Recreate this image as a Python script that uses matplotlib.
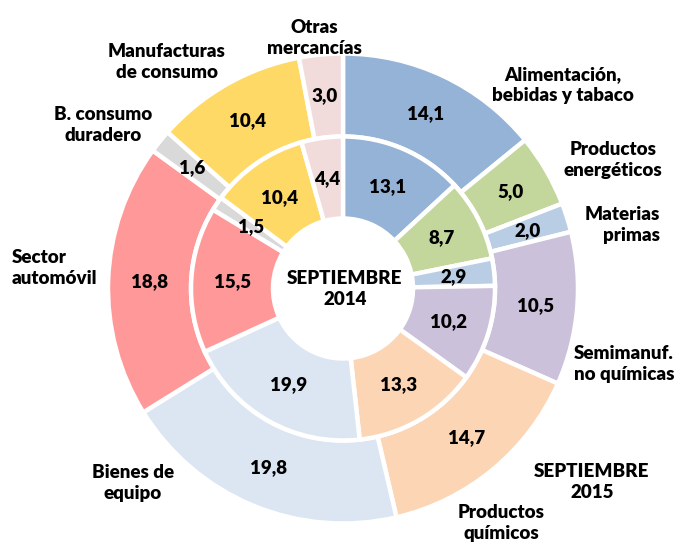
import numpy as np
import matplotlib
matplotlib.use("Agg")
import matplotlib.pyplot as plt

plt.rcParams['font.family'] = ['Lato', 'DejaVu Sans']

# datos: % sobre el total, septiembre 2015 (anillo exterior) y 2014 (interior)
categorias = ["Alimentación,\nbebidas y tabaco", "Productos\nenergéticos",
              "Materias\nprimas", "Semimanuf.\nno químicas", "Productos\nquímicos",
              "Bienes de\nequipo", "Sector\nautomóvil", "B. consumo\nduradero",
              "Manufacturas\nde consumo", "Otras\nmercancías"]
sep_2015 = [14.1, 5.0, 2.0, 10.5, 14.7, 19.8, 18.8, 1.6, 10.4, 3.0]
sep_2014 = [13.1, 8.7, 2.9, 10.2, 13.3, 19.9, 15.5, 1.5, 10.4, 4.4]
colores = ["#95B3D7", "#C3D69B", "#B9CDE5", "#CCC1DA", "#FCD5B5",
           "#DCE6F2", "#FF9999", "#D9D9D9", "#FFD966", "#F2DCDB"]

W, H = 678, 545
fig = plt.figure(figsize=(W / 100, H / 100), dpi=100)
ax = fig.add_axes([0, 0, 1, 1])

cx, cy = 343, H - 288.5
r_out, r_mid, r_hole = 235, 152, 70
fs = 13.5
peso = "heavy"

def anillo(vals, radius, width):
    wedges, _ = ax.pie(vals, radius=radius, center=(cx, cy), startangle=90,
                       counterclock=False, colors=colores,
                       wedgeprops=dict(width=width, edgecolor="white", linewidth=3.2))
    rm = radius - width / 2
    for w, v in zip(wedges, vals):
        th = np.deg2rad((w.theta1 + w.theta2) / 2)
        ax.text(cx + rm * np.cos(th), cy + rm * np.sin(th), f"{v:.1f}".replace(".", ","),
                ha="center", va="center", fontsize=fs, fontweight=peso)

anillo(sep_2015, r_out, r_out - r_mid)
anillo(sep_2014, r_mid, r_mid - r_hole)

# etiquetas de categoría (posiciones en px de la imagen)
pos_etiq = [(563, 85, "center"), (613, 160, "center"), (660, 225, "right"),
            (624, 364, "center"), (501, 523, "center"), (133, 483, "center"),
            (12, 268, "left"), (103, 125, "center"), (167, 62, "center"),
            (314, 38, "center")]
for txt, (x, y, ha) in zip(categorias, pos_etiq):
    ax.text(x, H - y, txt, ha=ha, va="center", fontsize=fs, fontweight=peso,
            linespacing=1.3, multialignment=ha)

ax.text(cx + 2, H - 289, "SEPTIEMBRE\n2014", ha="center", va="center",
        fontsize=fs, fontweight=peso, linespacing=1.3)
ax.text(592, H - 482, "SEPTIEMBRE\n2015", ha="center", va="center",
        fontsize=fs, fontweight=peso, linespacing=1.3)

ax.set_xlim(0, W)
ax.set_ylim(0, H)
ax.set_aspect("equal")
ax.axis("off")
fig.savefig("out.png", dpi=100)
